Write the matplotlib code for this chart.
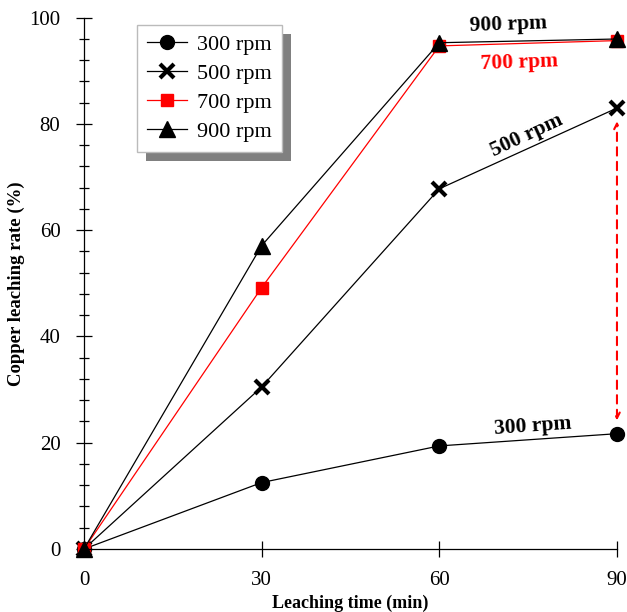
import matplotlib
matplotlib.use('Agg')
import matplotlib.pyplot as plt
from matplotlib.patches import Rectangle
from matplotlib.ticker import MultipleLocator

plt.rcParams['font.family'] = ['Liberation Serif', 'DejaVu Serif']

# Dữ liệu
time = [0, 30, 60, 90]
rpm300 = [0, 12.5, 19.4, 21.7]
rpm500 = [0, 30.5, 67.8, 83.0]
rpm700 = [0, 49.2, 94.7, 95.7]
rpm900 = [0, 57.1, 95.3, 96.0]
labels = ['300 rpm', '500 rpm', '700 rpm', '900 rpm']

fig = plt.figure(figsize=(6.27, 6.12), dpi=100)
ax = fig.add_axes([0.134, 0.103, 0.850, 0.868])

ax.plot(time, rpm300, color='black', lw=0.9, marker='o', ms=10, label=labels[0])
ax.plot(time, rpm500, color='black', lw=0.9, marker='x', ms=10, mew=3, label=labels[1])
ax.plot(time, rpm700, color='red', lw=0.9, marker='s', ms=9, label=labels[2])
ax.plot(time, rpm900, color='black', lw=0.9, marker='^', ms=11, label=labels[3])

ax.set_xlim(0, 90)
ax.set_ylim(0, 100)
ax.set_xticks([0, 30, 60, 90])
ax.yaxis.set_major_locator(MultipleLocator(20))
ax.yaxis.set_minor_locator(MultipleLocator(4))
ax.tick_params(axis='both', which='major', direction='inout', length=12, width=0.9,
               labelsize=15)
ax.tick_params(axis='x', pad=10)
ax.tick_params(axis='y', pad=11)
ax.tick_params(axis='y', which='minor', direction='inout', length=7, width=0.9)
for s in ['top', 'right']:
    ax.spines[s].set_visible(False)
for s in ['left', 'bottom']:
    ax.spines[s].set_linewidth(0.9)
for ln in ax.lines:
    ln.set_clip_on(False)

ax.set_xlabel('Leaching time (min)', fontsize=13, fontweight='bold', labelpad=3)
ax.set_ylabel('Copper leaching rate (%)', fontsize=13.5, fontweight='bold', labelpad=3)

# Chú thích trên đường
ax.text(71.6, 98.7, '900 rpm', fontsize=15.5, fontweight='bold', ha='center', va='center', rotation=2)
ax.text(73.5, 91.5, '700 rpm', color='red', fontsize=15.5, fontweight='bold', ha='center', va='center', rotation=2)
ax.text(74.8, 77.8, '500 rpm', fontsize=15.5, fontweight='bold', ha='center', va='center', rotation=25)
ax.text(75.8, 23.0, '300 rpm', fontsize=15.5, fontweight='bold', ha='center', va='center', rotation=4)

# Mũi tên đỏ
ax.annotate('', xy=(90, 80.5), xytext=(90, 24.2),
            arrowprops=dict(arrowstyle='<->', color='red', lw=1.5, ls=(0, (4, 3)),
                            shrinkA=0, shrinkB=0))

leg = ax.legend(loc='upper left', bbox_to_anchor=(0.099, 0.987), fontsize=16,
                frameon=True, fancybox=False, edgecolor='#bbbbbb', framealpha=1,
                handlelength=1.8, handletextpad=0.45, borderpad=0.45,
                labelspacing=0.38, borderaxespad=0)
leg.get_frame().set_linewidth(1.0)
leg.set_zorder(10)

fig.canvas.draw()
bb = leg.get_window_extent()
shadow = Rectangle((bb.x0 + 9, bb.y0 - 9), bb.width, bb.height, transform=None,
                   facecolor='#808080', edgecolor='none', zorder=9)
ax.add_artist(shadow)

fig.savefig('out.png', dpi=100)
